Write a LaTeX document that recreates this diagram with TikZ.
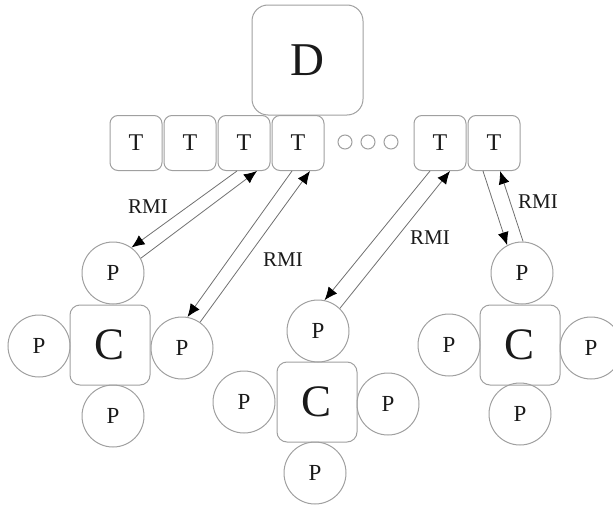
\documentclass[tikz,border=0pt]{standalone}
\usepackage{fontspec}
\setmainfont{Liberation Serif}
\usetikzlibrary{arrows.meta,calc}
\definecolor{edgegray}{HTML}{A0A0A0}
\definecolor{linegray}{HTML}{707070}
\definecolor{txt}{HTML}{1A1A1A}
\begin{document}
\begin{tikzpicture}[x=1pt,y=-1pt,
  every node/.style={text=txt},
  bigbox/.style={draw=edgegray,line width=1pt,rounded corners=16pt,minimum width=111pt,minimum height=110pt,inner sep=0pt,font=\fontsize{47}{47}\selectfont},
  tbox/.style={draw=edgegray,line width=1pt,rounded corners=8pt,minimum width=52pt,minimum height=55pt,inner sep=0pt,font=\fontsize{24}{24}\selectfont},
  cbox/.style={draw=edgegray,line width=1pt,rounded corners=10pt,minimum width=80pt,minimum height=80pt,inner sep=0pt,font=\fontsize{45}{45}\selectfont},
  pcirc/.style={draw=edgegray,line width=1pt,circle,minimum size=62pt,inner sep=0pt,font=\fontsize{23}{23}\selectfont},
  dotc/.style={draw=edgegray,line width=1pt,circle,minimum size=14pt,inner sep=0pt},
  rmi/.style={font=\fontsize{21}{21}\selectfont,inner sep=0pt},
  conn/.style={draw=linegray,line width=0.8pt,-{Latex[length=13pt,width=11pt,color=black]}}
]
\useasboundingbox (0,0) rectangle (613,506);
% top
\node[bigbox] (D) at (307.5,60) {D};
\node[tbox] (T1) at (136,143) {T};
\node[tbox] (T2) at (190,143) {T};
\node[tbox] (T3) at (244,143) {T};
\node[tbox] (T4) at (298,143) {T};
\node[dotc] (o1) at (345,142) {};
\node[dotc] (o2) at (368,142) {};
\node[dotc] (o3) at (391,142) {};
\node[tbox] (T5) at (440,143) {T};
\node[tbox] (T6) at (494,143) {T};
% left cluster
\node[cbox] (C1) at (110,345) {C};
\node[pcirc] (P1t) at (113,273) {P};
\node[pcirc] (P1b) at (113,416) {P};
\node[pcirc] (P1l) at (39,346) {P};
\node[pcirc] (P1r) at (182,348) {P};
% middle cluster
\node[cbox] (C2) at (317,402) {C};
\node[pcirc] (P2t) at (318,331) {P};
\node[pcirc] (P2b) at (315,473) {P};
\node[pcirc] (P2l) at (244,402) {P};
\node[pcirc] (P2r) at (388,404) {P};
% right cluster
\node[cbox] (C3) at (520,345) {C};
\node[pcirc] (P3t) at (522,273) {P};
\node[pcirc] (P3b) at (520,414) {P};
\node[pcirc] (P3l) at (449,345) {P};
\node[pcirc] (P3r) at (591,348) {P};
% connectors
\draw[conn] ([xshift=-7pt]T3.south) -- (P1t.54);
\draw[conn] (P1t.28) -- ([xshift=13pt]T3.south);
\draw[conn] ([xshift=-6pt]T4.south) -- (P1r.80);
\draw[conn] (P1r.55) -- ([xshift=12pt]T4.south);
\draw[conn] ([xshift=-10pt]T5.south) -- (P2t.78);
\draw[conn] (P2t.46) -- ([xshift=10pt]T5.south);
\draw[conn] ([xshift=-11pt]T6.south) -- (P3t.118);
\draw[conn] (P3t.88) -- ([xshift=6pt]T6.south);
% labels
\node[rmi] (r1) at (148,207) {RMI};
\node[rmi] (r2) at (283,260) {RMI};
\node[rmi] (r3) at (430,238) {RMI};
\node[rmi] (r4) at (538,202) {RMI};
\end{tikzpicture}
\end{document}
